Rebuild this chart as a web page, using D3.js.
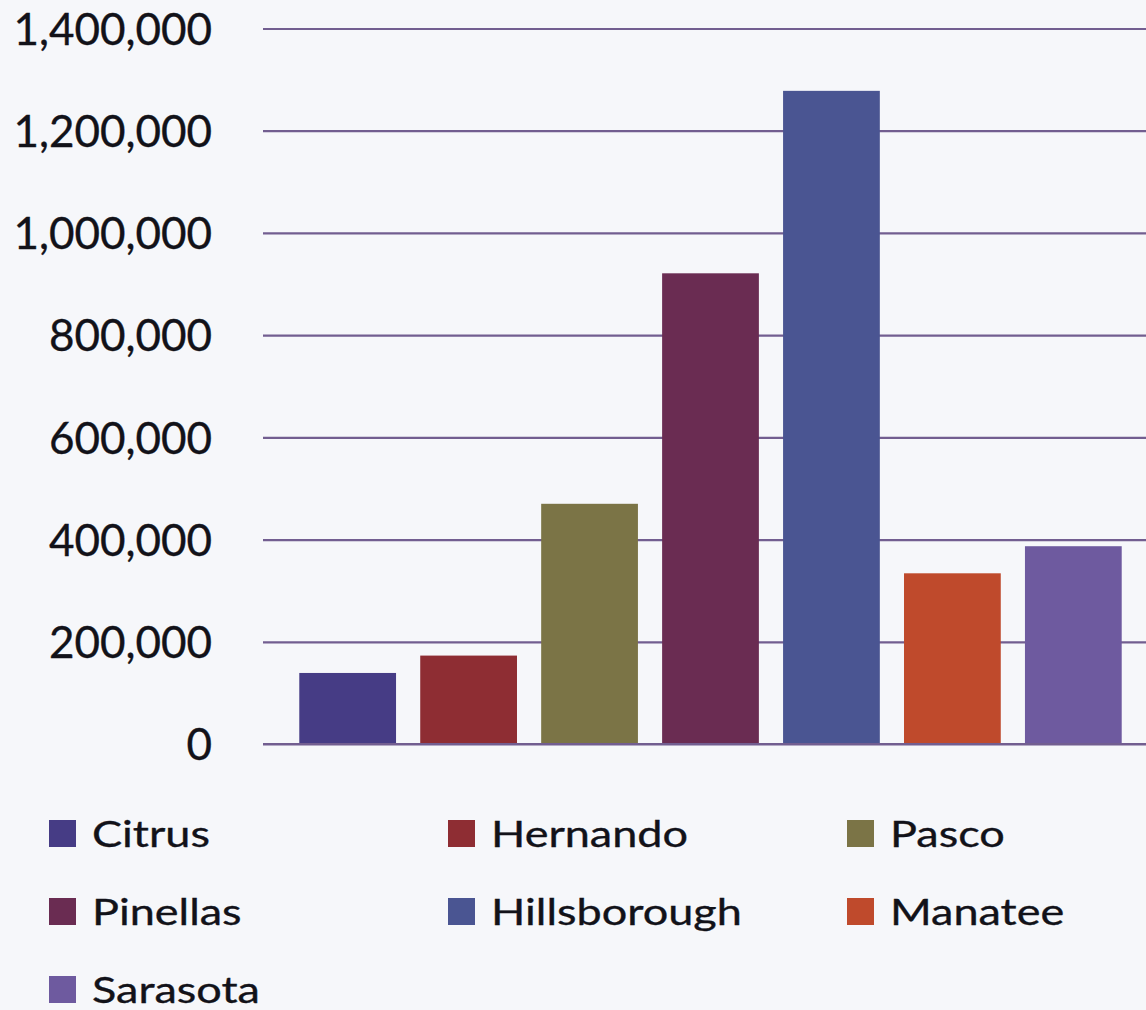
<!DOCTYPE html>
<html>
<head>
<meta charset="utf-8">
<script src="https://cdn.jsdelivr.net/npm/d3@7"></script>
<style>
  html, body { margin: 0; padding: 0; background: #f6f7fa; overflow: hidden; }
  svg { display: block; }
  text { font-family: Lato, "Open Sans", sans-serif; fill: #121219; stroke: #121219; stroke-width: 0.35px; }
</style>
</head>
<body>
<svg id="chart" width="1146" height="1010"></svg>
<script>
// County populations
const counties = ["Citrus", "Hernando", "Pasco", "Pinellas", "Hillsborough", "Manatee", "Sarasota"];
const population = [139000, 173000, 470000, 921000, 1278000, 334000, 387000];
const barColors = ["#463c85", "#8e2d33", "#7b7446", "#6a2c52", "#4a5592", "#bf4a2c", "#6e5a9f"];
const yTicks = [0, 200000, 400000, 600000, 800000, 1000000, 1200000, 1400000];

const W = 1146, H = 1010;
const plot = { left: 263, right: 1158, top: 28.5, bottom: 744 };
const gridColor = "#725e90";

const svg = d3.select("#chart");

const x = d3.scaleBand()
  .domain(counties)
  .range([plot.left, plot.right])
  .paddingInner(0.2)
  .paddingOuter(0.3);

const y = d3.scaleLinear()
  .domain([0, 1400000])
  .range([plot.bottom, plot.top]);

// Horizontal gridlines
const grid = svg.append("g")
  .attr("transform", `translate(${plot.left},0)`)
  .call(d3.axisLeft(y).tickValues(yTicks).tickSize(-(W - plot.left)).tickFormat(""));
grid.select(".domain").remove();
grid.selectAll("line").attr("stroke", gridColor).attr("stroke-width", 2.2);

// Value labels on the left
const yAxis = svg.append("g")
  .attr("transform", "translate(212,0)")
  .call(d3.axisLeft(y).tickValues(yTicks).tickSize(0).tickPadding(0).tickFormat(d3.format(",")));
yAxis.select(".domain").remove();
yAxis.selectAll("text")
  .attr("font-size", 44)
  .attr("dy", "0.36em")
  .style("font-family", "Lato, sans-serif")
  .attr("fill", "#121219");

// Bars
svg.append("g").selectAll("rect")
  .data(counties)
  .join("rect")
  .attr("x", d => x(d))
  .attr("width", x.bandwidth())
  .attr("y", (d, i) => y(population[i]))
  .attr("height", (d, i) => y(0) - y(population[i]))
  .attr("fill", (d, i) => barColors[i]);

// Baseline drawn over the bars
svg.append("line")
  .attr("x1", plot.left).attr("x2", W)
  .attr("y1", y(0)).attr("y2", y(0))
  .attr("stroke", gridColor).attr("stroke-width", 2.2);

// Legend: three columns, rows filled left to right
const legendCols = 3;
const colX = d3.scaleLinear().domain([0, 1]).range([49, 448]);
const rowY = d3.scaleLinear().domain([0, 1]).range([847, 925]);
const sw = 27;
const stretch = 1.25;

const items = svg.append("g").selectAll("g")
  .data(counties)
  .join("g")
  .attr("transform", (d, i) => `translate(${colX(i % legendCols)},${rowY(Math.floor(i / legendCols))})`);

items.append("rect")
  .attr("x", 0).attr("y", -sw)
  .attr("width", sw).attr("height", sw)
  .attr("fill", (d, i) => barColors[i]);

items.append("text")
  .attr("transform", `translate(43,0) scale(${stretch},1)`)
  .attr("font-size", 36)
  .text(d => d);
</script>
</body>
</html>
